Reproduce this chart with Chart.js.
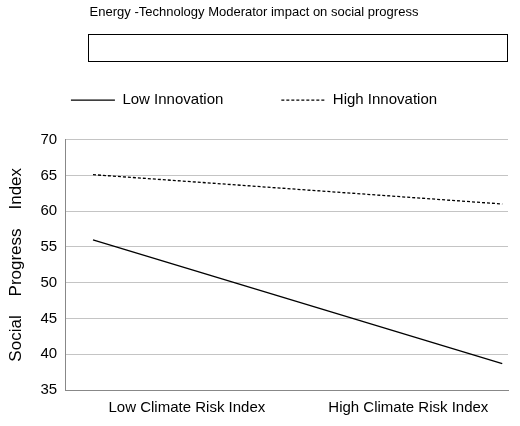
<!DOCTYPE html>
<html><head><meta charset="utf-8">
<script src="https://cdn.jsdelivr.net/npm/chart.js@4/dist/chart.umd.min.js"></script>
<style>html,body{margin:0;background:#fff}#wrap{width:520px;height:426px}</style>
</head><body><div id="wrap"><canvas id="c"></canvas></div>
<script>
// categorias y series
const categorias = ['Low Climate Risk Index', 'High Climate Risk Index'];
const posCategorias = [0.275, 0.775];
const posPuntos = [0.063, 0.987];
const bajaInnovacion = [56.0, 38.7];
const altaInnovacion = [65.1, 61.0];
const ticksY = [35, 40, 45, 50, 55, 60, 65, 70];

// leyenda mas alta + caja alrededor
const marcoLeyenda = {
    id: 'marcoLeyenda',
    beforeInit(chart) {
        const fitOrig = chart.legend.fit;
        chart.legend.fit = function() {
            fitOrig.bind(chart.legend)();
            this.height += 22;
        };
    },
    afterDraw(chart) {
        const ctx = chart.ctx;
        ctx.save();
        ctx.strokeStyle = '#000';
        ctx.lineWidth = 1;
        ctx.strokeRect(88.5, 34.5, 419, 27);
        ctx.restore();
    }
};

new Chart(document.getElementById('c'), {
    type: 'line',
    data: {
        datasets: [
            { label: 'Low Innovation', data: bajaInnovacion.map((v, i) => ({ x: posPuntos[i], y: v })),
              borderColor: '#000', borderWidth: 1.3, pointRadius: 0, fill: false },
            { label: 'High Innovation', data: altaInnovacion.map((v, i) => ({ x: posPuntos[i], y: v })),
              borderColor: '#000', borderWidth: 1.3, borderDash: [3, 2], pointRadius: 0, fill: false }
        ]
    },
    options: {
        responsive: true, maintainAspectRatio: false, animation: false,
        layout: { padding: { left: 0, right: 12, top: 0, bottom: 0 } },
        plugins: {
            title: { display: true, text: 'Energy -Technology Moderator impact on social progress',
                     color: '#000', font: { family: 'Liberation Sans', size: 13, weight: 'normal' },
                     padding: { top: 5, bottom: 14 } },
            legend: {
                display: true,
                labels: {
                    boxWidth: 44, boxHeight: 0, padding: 58,
                    color: '#000', font: { family: 'Liberation Sans', size: 15 },
                    generateLabels: (chart) => chart.data.datasets.map((d, i) => ({
                        text: d.label, fillStyle: 'rgba(0,0,0,0)', strokeStyle: '#000',
                        lineWidth: 1.3, lineDash: d.borderDash || [], datasetIndex: i,
                        fontColor: '#000', hidden: false
                    }))
                }
            },
            tooltip: { enabled: false }
        },
        scales: {
            x: {
                type: 'linear', min: 0, max: 1,
                afterBuildTicks: (ax) => { ax.ticks = posCategorias.map(v => ({ value: v })); },
                ticks: { callback: (v, i) => categorias[i], color: '#000', maxRotation: 0,
                         font: { family: 'Liberation Sans', size: 15 }, padding: 9 },
                grid: { display: false, drawTicks: false },
                border: { color: '#888' }
            },
            y: {
                min: 35, max: 70,
                afterBuildTicks: (ax) => { ax.ticks = ticksY.map(v => ({ value: v })); },
                ticks: { color: '#000', font: { family: 'Liberation Sans', size: 15 }, padding: 8 },
                grid: { color: '#c4c4c4', drawTicks: false },
                border: { color: '#888' },
                title: { display: true, text: 'Social    Progress    Index', color: '#000',
                         font: { family: 'Liberation Sans', size: 17 }, padding: 6 }
            }
        }
    },
    plugins: [marcoLeyenda]
});
</script></body></html>
